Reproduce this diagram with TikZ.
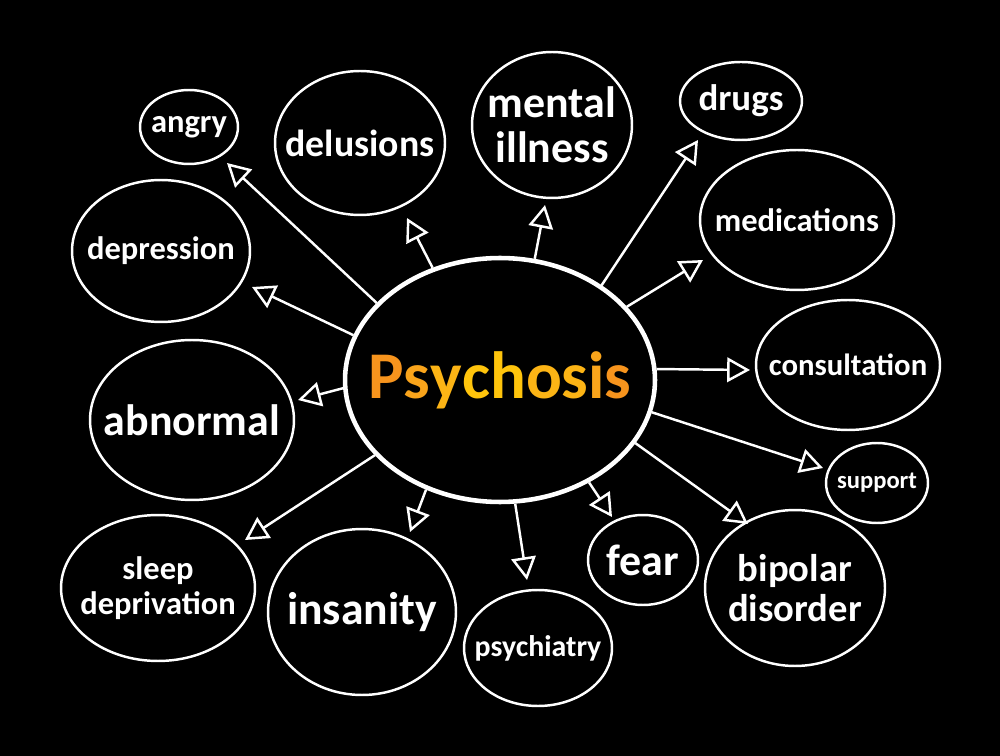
\documentclass[tikz,border=0pt]{standalone}
\usepackage{fontspec}
\setmainfont{Carlito}
\usetikzlibrary{arrows.meta,shapes.geometric}

\definecolor{psyA}{HTML}{F7941D}
\definecolor{psyB}{HTML}{F9A41B}
\definecolor{psyC}{HTML}{FCB415}
\definecolor{psyD}{HTML}{FFC40C}
\newcommand{\psyword}{{\color{psyA}P}{\color{psyB}s}{\color{psyC}y}{\color{psyD}c}{\color{psyD}h}{\color{psyC}o}{\color{psyC}s}{\color{psyB}i}{\color{psyA}s}}

\begin{document}
\begin{tikzpicture}[x=0.02cm,y=-0.02cm,
	bub/.style 2 args={draw=white, line width=1.4pt, ellipse, inner sep=0pt, minimum width=#1cm, minimum height=#2cm},
	word/.style 2 args={text=white, align=center, font=\bfseries\fontsize{#1}{#2}\selectfont},
	arr/.style={draw=white, line width=1.4pt, -{Triangle[open, length=13pt, width=14pt]}}]
		\fill[black] (0,0) rectangle (1000,756);
		% centre
		\node[bub={6.2}{4.88}, line width=2.6pt, label={[font=\bfseries\fontsize{38}{40}\selectfont]center:\psyword}] (psy) at (500,380) {};
		% top row
		\node[bub={1.96}{1.48}, label={[word={18.5}{20}]center:angry}] (angry) at (189,127) {};
		\node[bub={3.4}{2.88}, label={[word={21.5}{23}]center:delusions}] (delus) at (360,143) {};
		\node[bub={3.2}{2.92}, label={[word={25}{25.5}]center:{mental\\illness}}] (mental) at (552,125) {};
		\node[bub={2.44}{1.56}, label={[word={21}{23}]center:drugs}] (drugs) at (741,101) {};
		% left side
		\node[bub={3.56}{2.84}, label={[word={18.5}{20}]center:depression}] (depr) at (161,251) {};
		\node[bub={4.08}{3.2}, label={[word={25}{27}]center:abnormal}] (abnorm) at (192,420) {};
		\node[bub={3.88}{2.92}, label={[word={18.5}{20}]center:{sleep\\deprivation}}] (sleep) at (158,588) {};
		% right side
		\node[bub={3.88}{2.8}, label={[word={18.5}{20}]center:medications}] (medic) at (797,220) {};
		\node[bub={3.68}{2.6}, label={[word={17.5}{19}]center:consultation}] (consult) at (848,365) {};
		\node[bub={2.04}{1.6}, label={[word={14}{15}]center:support}] (support) at (877,483) {};
		\node[bub={3.6}{3.12}, label={[word={22}{22.7}]center:{bipolar\\disorder}}] (bipolar) at (795,588) {};
		% bottom row
		\node[bub={3.76}{3.32}, label={[word={26}{28}]center:insanity}] (insan) at (362,612) {};
		\node[bub={2.96}{2.32}, label={[word={17}{18}]center:psychiatry}] (psychi) at (538,648) {};
		\node[bub={2.2}{1.8}, label={[word={25}{27}]center:fear}] (fear) at (643,560) {};
		% arrow ends
		\coordinate (angry-tip) at (227,163);
		\coordinate (delus-tip) at (407,218);
		\coordinate (mental-tip) at (545,205);
		\coordinate (drugs-tip) at (698,140);
		\coordinate (medic-tip) at (703,260);
		\coordinate (depr-tip) at (252,287);
		\coordinate (consult-tip) at (750,370);
		\coordinate (abnorm-tip) at (298,400);
		\coordinate (support-tip) at (823,468);
		\coordinate (sleep-tip) at (245,540);
		\coordinate (insan-tip) at (410,532);
		\coordinate (psychi-tip) at (527,580);
		\coordinate (fear-tip) at (612,517);
		\coordinate (bipolar-tip) at (748,524);
		\draw[arr] (psy.148) -- (angry-tip);
		\draw[arr] (psy.121) -- (delus-tip);
		\draw[arr] (psy.74) -- (mental-tip);
		\draw[arr] (psy.43) -- (drugs-tip);
		\draw[arr] (psy.30) -- (medic-tip);
		\draw[arr] (psy.163) -- (depr-tip);
		\draw[arr] (psy.4) -- (consult-tip);
		\draw[arr] (psy.183) -- (abnorm-tip);
		\draw[arr] (psy.348) -- (support-tip);
		\draw[arr] (psy.211) -- (sleep-tip);
		\draw[arr] (psy.236) -- (insan-tip);
		\draw[arr] (psy.277) -- (psychi-tip);
		\draw[arr] (psy.311) -- (fear-tip);
		\draw[arr] (psy.335) -- (bipolar-tip);
	\end{tikzpicture}
\end{document}
